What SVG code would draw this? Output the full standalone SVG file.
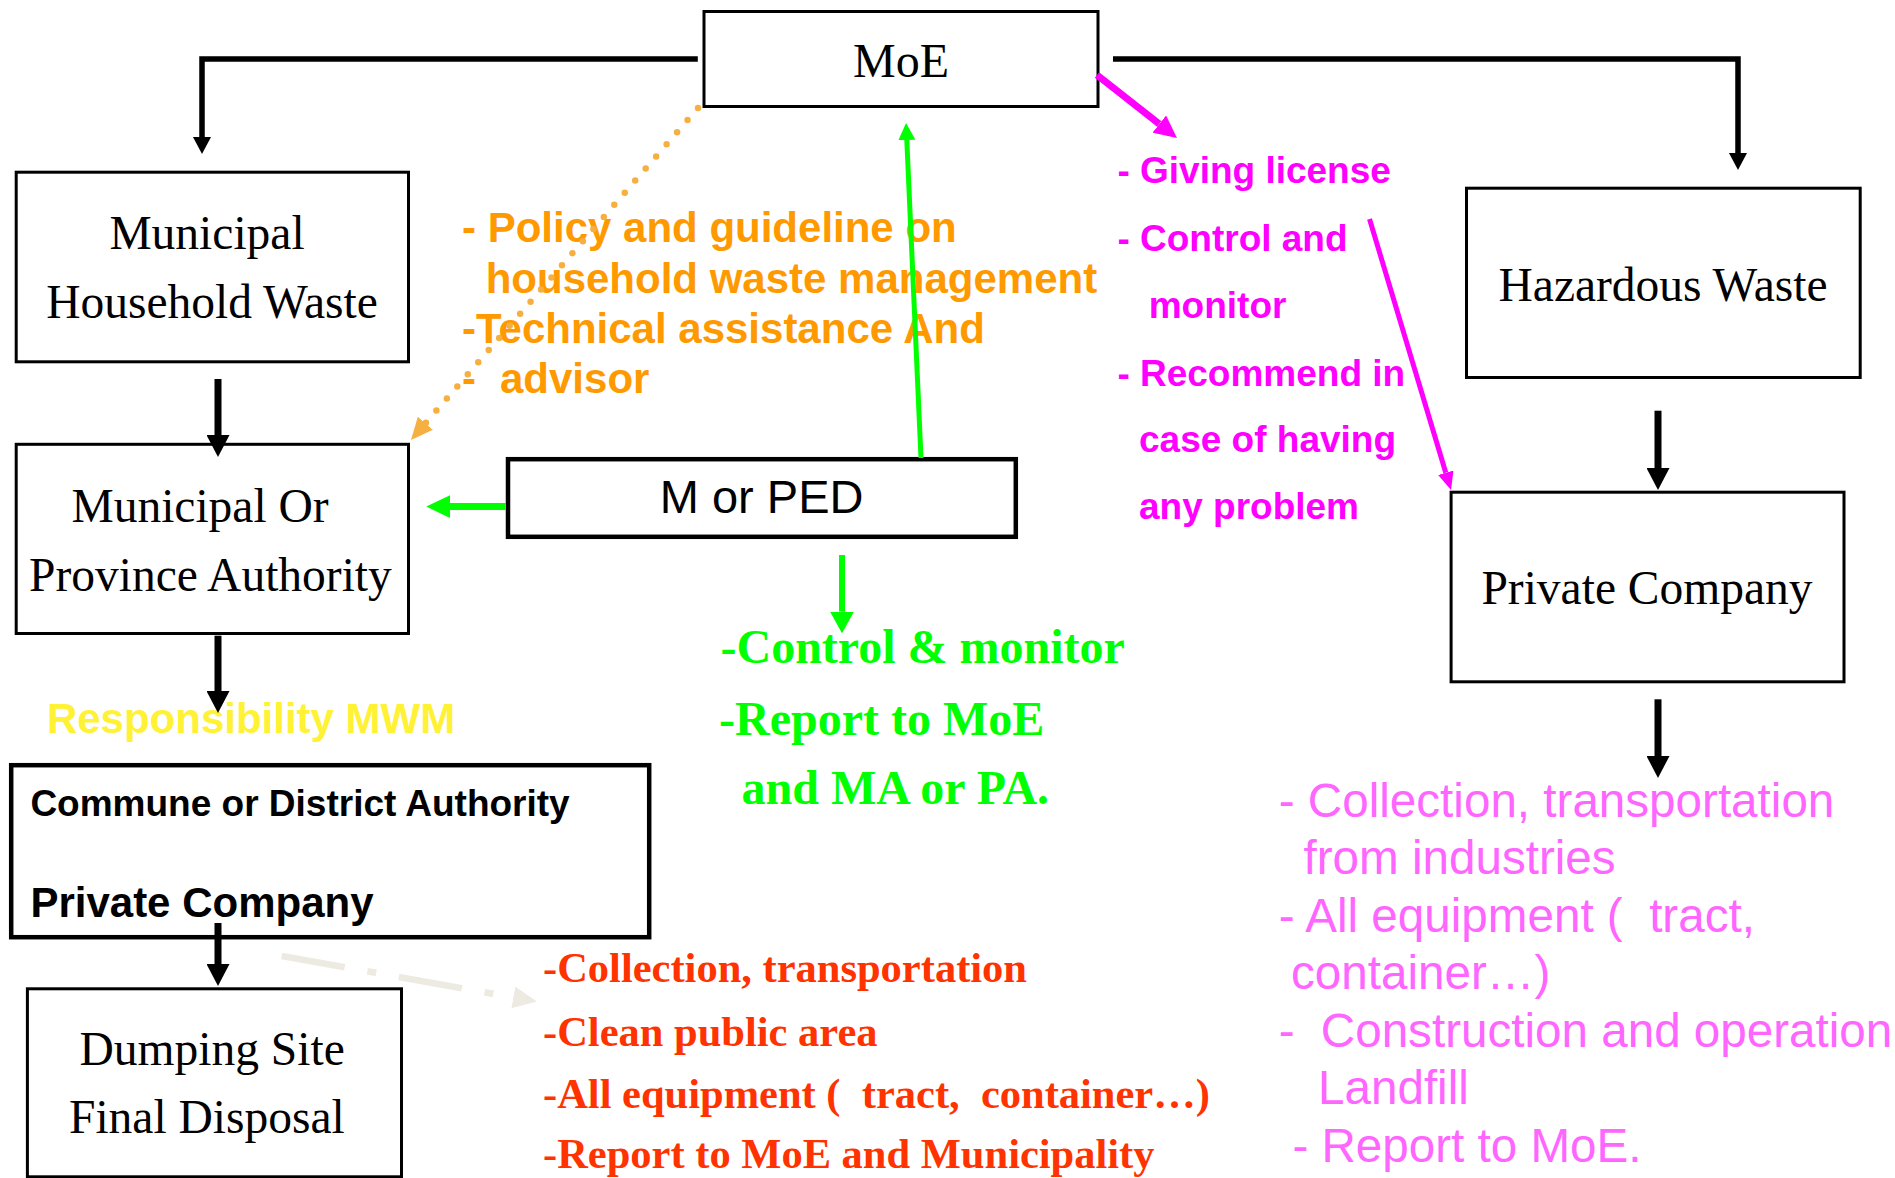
<svg xmlns="http://www.w3.org/2000/svg" width="1895" height="1178" viewBox="0 0 1895 1178">
<defs>
<style>
.box{fill:#fff;stroke:#000;stroke-width:3}
.boxb{fill:#fff;stroke:#000;stroke-width:4.5}
.serif{font-family:"Liberation Serif","Times New Roman",serif;font-size:47.5px;fill:#000}
.moe{font-family:"Liberation Serif","Times New Roman",serif;font-size:48px;fill:#000}
.sans{font-family:"Liberation Sans",Arial,sans-serif;fill:#000}
.orange{font-family:"Liberation Sans",Arial,sans-serif;font-weight:bold;font-size:42px;fill:#FF9900}
.mag{font-family:"Liberation Sans",Arial,sans-serif;font-weight:bold;font-size:37px;fill:#FF00FF}
.green{font-family:"Liberation Serif","Times New Roman",serif;font-weight:bold;font-size:48px;fill:#00FF00}
.red{font-family:"Liberation Serif","Times New Roman",serif;font-weight:bold;font-size:42.5px;fill:#FF3300}
.pink{font-family:"Liberation Sans",Arial,sans-serif;font-size:47.6px;fill:#FF66FF}
.yellow{font-family:"Liberation Sans",Arial,sans-serif;font-weight:bold;font-size:42px;fill:#FFF133}
.blk{fill:none;stroke:#000}
</style>
<marker id="hbs" viewBox="0 0 17 18" refX="0" refY="9" markerWidth="17" markerHeight="18" markerUnits="userSpaceOnUse" orient="auto"><path d="M0,0 L17,9 L0,18 Z" fill="#000"/></marker>
<marker id="hb" viewBox="0 0 22 23" refX="0" refY="11.5" markerWidth="22" markerHeight="23" markerUnits="userSpaceOnUse" orient="auto"><path d="M0,0 L22,11.5 L0,23 Z" fill="#000"/></marker>
<marker id="ho" viewBox="0 0 22 20" refX="0" refY="10" markerWidth="22" markerHeight="20" markerUnits="userSpaceOnUse" orient="auto"><path d="M0,0 L22,10 L0,20 Z" fill="#F6B042"/></marker>
<marker id="hm1" viewBox="0 0 22.5 22" refX="0" refY="11" markerWidth="22.5" markerHeight="22" markerUnits="userSpaceOnUse" orient="auto"><path d="M0,0 L22.5,11 L0,22 Z" fill="#FF00FF"/></marker>
<marker id="hm2" viewBox="0 0 18 16" refX="0" refY="8" markerWidth="18" markerHeight="16" markerUnits="userSpaceOnUse" orient="auto"><path d="M0,0 L18,8 L0,16 Z" fill="#FF00FF"/></marker>
<marker id="hg1" viewBox="0 0 23.7 22.8" refX="0" refY="11.4" markerWidth="23.7" markerHeight="22.8" markerUnits="userSpaceOnUse" orient="auto"><path d="M0,0 L23.7,11.4 L0,22.8 Z" fill="#00FF00"/></marker>
<marker id="hg2" viewBox="0 0 17 17" refX="0" refY="8.5" markerWidth="17" markerHeight="17" markerUnits="userSpaceOnUse" orient="auto"><path d="M0,0 L17,8.5 L0,17 Z" fill="#00FF00"/></marker>
<marker id="hg3" viewBox="0 0 21.7 24" refX="0" refY="12" markerWidth="21.7" markerHeight="24" markerUnits="userSpaceOnUse" orient="auto"><path d="M0,0 L21.7,12 L0,24 Z" fill="#00FF00"/></marker>
<marker id="hgr" viewBox="0 0 24 22" refX="0" refY="11" markerWidth="24" markerHeight="22" markerUnits="userSpaceOnUse" orient="auto"><path d="M0,0 L24,11 L0,22 Z" fill="#EDEBE1"/></marker>
</defs>
<rect x="0" y="0" width="1895" height="1178" fill="#fff"/>

<g id="node-moe">
<rect class="box" x="704" y="11.5" width="394" height="95"/>
<text class="moe" x="901" y="76.7" text-anchor="middle">MoE</text>
</g>

<g id="node-municipal-household-waste">
<rect class="box" x="16.2" y="172.2" width="392.3" height="189.6"/>
<text class="serif" x="207" y="249" text-anchor="middle">Municipal</text>
<text class="serif" x="212" y="318" text-anchor="middle">Household Waste</text>
</g>

<g id="node-municipal-province-authority">
<rect class="box" x="16.2" y="444.3" width="392.3" height="189.2"/>
<text class="serif" x="71.4" y="521.7">Municipal Or</text>
<text class="serif" x="29" y="590.8">Province Authority</text>
</g>

<g id="node-m-or-ped">
<rect class="boxb" x="508" y="459.2" width="507.8" height="77.6"/>
<text class="sans" x="761.6" y="513.3" font-size="47" text-anchor="middle">M or PED</text>
</g>

<g id="node-hazardous-waste">
<rect class="box" x="1466.5" y="188.2" width="393.7" height="189.3"/>
<text class="serif" x="1663" y="301" text-anchor="middle">Hazardous Waste</text>
</g>

<g id="node-private-company-hw">
<rect class="box" x="1451.1" y="492.2" width="392.9" height="189.6"/>
<text class="serif" x="1647" y="604" text-anchor="middle">Private Company</text>
</g>

<g id="node-commune-district">
<rect class="boxb" x="11.2" y="765.2" width="638" height="172"/>
<text class="sans" x="30.4" y="815.6" font-size="37" font-weight="bold">Commune or District Authority</text>
<text class="sans" x="30.4" y="917.4" font-size="42" font-weight="bold">Private Company</text>
</g>

<g id="node-dumping-site">
<rect class="box" x="27.4" y="988.8" width="374.1" height="188"/>
<text class="serif" x="79.5" y="1065">Dumping Site</text>
<text class="serif" x="69" y="1133.3">Final Disposal</text>
</g>

<g id="label-moe-policy">
<text class="orange" x="462" y="241.7">- Policy and guideline on</text>
<text class="orange" x="485.7" y="292.7">household waste management</text>
<text class="orange" x="462" y="343.3">-Technical assistance And</text>
<text class="orange" y="393"><tspan x="462">-</tspan><tspan x="500">advisor</tspan></text>
</g>

<g id="label-moe-private">
<text class="mag" x="1117.4" y="183">- Giving license</text>
<text class="mag" x="1117.4" y="250.7">- Control and</text>
<text class="mag" x="1148.7" y="318">monitor</text>
<text class="mag" x="1117.4" y="385.7">- Recommend in</text>
<text class="mag" x="1139" y="451.7">case of having</text>
<text class="mag" x="1139" y="519">any problem</text>
</g>

<g id="label-responsibility">
<text class="yellow" x="46.9" y="733.2">Responsibility MWM</text>
</g>

<g id="label-m-or-ped-tasks">
<text class="green" x="720.5" y="662.7">-Control &amp; monitor</text>
<text class="green" x="719" y="735">-Report to MoE</text>
<text class="green" x="741.5" y="804">and MA or PA.</text>
</g>

<g id="label-commune-tasks">
<text class="red" x="543" y="981.7">-Collection, transportation</text>
<text class="red" x="543" y="1046">-Clean public area</text>
<text class="red" x="543" y="1108.3" xml:space="preserve">-All equipment (  tract,  container…)</text>
<text class="red" x="543" y="1168.3">-Report to MoE and Municipality</text>
</g>

<g id="label-private-company-tasks">
<text class="pink" x="1278.8" y="816.7">- Collection, transportation</text>
<text class="pink" x="1303.5" y="874">from industries</text>
<text class="pink" x="1278.8" y="931.7" xml:space="preserve">- All equipment (  tract,</text>
<text class="pink" x="1291" y="989">container…)</text>
<text class="pink" y="1046.7"><tspan x="1278.8">-</tspan><tspan x="1320.8">Construction and operation</tspan></text>
<text class="pink" x="1318" y="1104">Landfill</text>
<text class="pink" x="1292.4" y="1161.7">- Report to MoE.</text>
</g>

<g id="connectors">
<polyline class="blk" points="697.8,59 202,59 202,137" stroke-width="5.5" marker-end="url(#hbs)"/>
<polyline class="blk" points="1113,59 1738,59 1738,153" stroke-width="5.5" marker-end="url(#hbs)"/>
<line class="blk" x1="218" y1="379" x2="218" y2="435" stroke-width="7" marker-end="url(#hb)"/>
<line class="blk" x1="218" y1="635.7" x2="218" y2="691" stroke-width="7" marker-end="url(#hb)"/>
<line class="blk" x1="218" y1="923" x2="218" y2="964" stroke-width="7" marker-end="url(#hb)"/>
<line class="blk" x1="1658" y1="410.7" x2="1658" y2="468" stroke-width="7" marker-end="url(#hb)"/>
<line class="blk" x1="1658" y1="699.3" x2="1658" y2="756" stroke-width="7" marker-end="url(#hb)"/>
<line x1="698" y1="108" x2="425.4" y2="423.3" stroke="#F6B042" stroke-width="6.5" stroke-linecap="round" stroke-dasharray="0 16" marker-end="url(#ho)"/>
<line x1="1097" y1="75" x2="1159.3" y2="124.1" stroke="#FF00FF" stroke-width="7" marker-end="url(#hm1)"/>
<line x1="1369.5" y1="219" x2="1445.8" y2="472.8" stroke="#FF00FF" stroke-width="5" marker-end="url(#hm2)"/>
<line x1="921" y1="458" x2="906.8" y2="140" stroke="#00FF00" stroke-width="5" marker-end="url(#hg2)"/>
<line x1="505.8" y1="506.6" x2="450" y2="506.6" stroke="#00FF00" stroke-width="7" marker-end="url(#hg1)"/>
<line x1="842" y1="555" x2="842" y2="611.6" stroke="#00FF00" stroke-width="6" marker-end="url(#hg3)"/>
<line x1="281.7" y1="956" x2="513.3" y2="997.4" stroke="#EDEBE1" stroke-width="6.7" stroke-dasharray="64 23 9 23" marker-end="url(#hgr)"/>
</g>
</svg>
